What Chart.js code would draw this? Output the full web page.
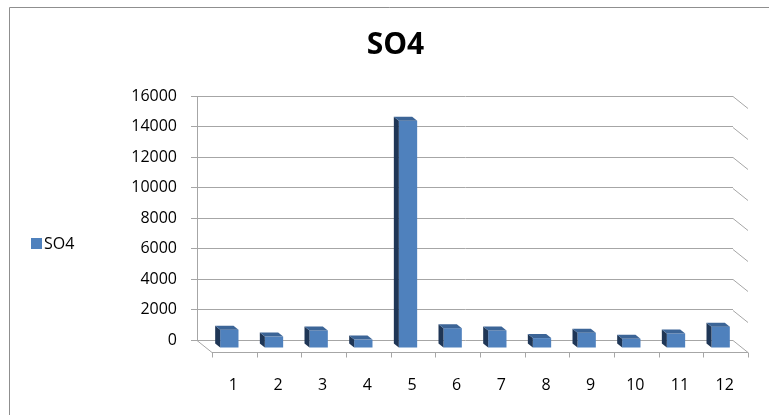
<!DOCTYPE html>
<html>
<head>
<meta charset="utf-8">
<script src="https://cdn.jsdelivr.net/npm/chart.js@4.4.0/dist/chart.umd.min.js"></script>
<style>
  html, body { margin: 0; padding: 0; background: #ffffff; }
  canvas { display: block; }
</style>
</head>
<body>
<canvas id="chart" width="769" height="415"></canvas>
<script>
// Sample numbers and their SO4 readings
const categories = ['1', '2', '3', '4', '5', '6', '7', '8', '9', '10', '11', '12'];
const seriesName = 'SO4';
const so4Values = [1200, 750, 1150, 550, 14900, 1300, 1150, 650, 1000, 600, 950, 1400];

// Value axis
const yMin = 0;
const yMax = 16000;
const yStep = 2000;

// Styling for the pseudo-3D look
const FONT = "'Open Sans', 'Liberation Sans', sans-serif";
const gridColor = '#a6a6a6';
const frontColor = '#4f81bd';
const sideColor = '#1f3656';
const topColor = '#3c6597';
const DEPTH = { x: 15, y: 12 };     // back wall -> front edge of the floor
const BAR_SHIFT = { x: 10, y: 8 };  // front face of the columns relative to the back wall
const BAR_DEPTH = { x: 5, y: 4 };   // visible thickness of each column

const threeD = {
  id: 'threeD',
  beforeDraw(chart) {
    const ctx = chart.ctx;
    // outer frame (left and top edges)
    ctx.save();
    ctx.strokeStyle = '#8f8f8f';
    ctx.lineWidth = 1;
    ctx.beginPath();
    ctx.moveTo(9.5, chart.height + 5);
    ctx.lineTo(9.5, 7.5);
    ctx.lineTo(chart.width + 5, 7.5);
    ctx.stroke();
    ctx.restore();
  },
  beforeDatasetsDraw(chart) {
    const { ctx, chartArea: a, scales } = chart;
    const ys = scales.y;
    ctx.save();
    ctx.strokeStyle = gridColor;
    ctx.lineWidth = 1;
    ctx.beginPath();
    // side wall continuation of every gridline
    ys.ticks.forEach(t => {
      const y = Math.round(ys.getPixelForValue(t.value)) + 0.5;
      ctx.moveTo(a.right, y);
      ctx.lineTo(a.right + DEPTH.x, y + DEPTH.y);
    });
    // floor
    const y0 = Math.round(ys.getPixelForValue(0)) + 0.5;
    const yf = y0 + DEPTH.y;
    ctx.moveTo(a.left, y0);
    ctx.lineTo(a.left + DEPTH.x, yf);
    ctx.lineTo(a.right + DEPTH.x, yf);
    // category ticks along the front edge
    const n = categories.length;
    const w = (a.right - a.left) / n;
    for (let k = 0; k <= n; k++) {
      const x = Math.round(a.left + DEPTH.x + k * w) + 0.5;
      ctx.moveTo(x, yf);
      ctx.lineTo(x, yf + 5);
    }
    ctx.stroke();
    ctx.restore();

    // columns stand in front of the back wall
    ctx.save();
    ctx.translate(BAR_SHIFT.x, BAR_SHIFT.y);
  },
  afterDatasetsDraw(chart) {
    const ctx = chart.ctx;
    chart.getDatasetMeta(0).data.forEach(bar => {
      const { x, y, base, width } = bar.getProps(['x', 'y', 'base', 'width'], true);
      const l = x - width / 2;
      const r = x + width / 2;
      // left side face
      ctx.fillStyle = sideColor;
      ctx.beginPath();
      ctx.moveTo(l, y);
      ctx.lineTo(l - BAR_DEPTH.x, y - BAR_DEPTH.y);
      ctx.lineTo(l - BAR_DEPTH.x, base - BAR_DEPTH.y);
      ctx.lineTo(l, base);
      ctx.closePath();
      ctx.fill();
      // top face
      ctx.fillStyle = topColor;
      ctx.beginPath();
      ctx.moveTo(l, y);
      ctx.lineTo(r, y);
      ctx.lineTo(r - BAR_DEPTH.x, y - BAR_DEPTH.y);
      ctx.lineTo(l - BAR_DEPTH.x, y - BAR_DEPTH.y);
      ctx.closePath();
      ctx.fill();
    });
    ctx.restore();
  },
  afterDraw(chart) {
    const ctx = chart.ctx;
    const ds = chart.data.datasets[0];
    // legend entry on the left
    ctx.save();
    ctx.fillStyle = ds.backgroundColor;
    ctx.fillRect(31, 238, 11, 11);
    ctx.fillStyle = '#000000';
    ctx.font = '16px ' + FONT;
    ctx.textBaseline = 'middle';
    ctx.textAlign = 'left';
    ctx.fillText(ds.label, 44, 244);
    ctx.restore();
  }
};

new Chart(document.getElementById('chart'), {
  type: 'bar',
  data: {
    labels: categories,
    datasets: [{
      label: seriesName,
      data: so4Values,
      backgroundColor: frontColor,
      borderWidth: 0,
      categoryPercentage: 1.0,
      barPercentage: 0.41
    }]
  },
  options: {
    responsive: false,
    animation: false,
    devicePixelRatio: 1,
    events: [],
    layout: { padding: { left: 58, right: 36, top: 0, bottom: 0 } },
    plugins: {
      legend: { display: false },
      tooltip: { enabled: false },
      title: {
        display: true,
        text: seriesName,
        color: '#000000',
        font: { family: FONT, size: 30, weight: 'bold', lineHeight: 1.2 },
        padding: { top: 27, bottom: 33 }
      }
    },
    scales: {
      x: {
        grid: { display: false, drawTicks: false },
        border: { display: false },
        ticks: {
          color: '#000000',
          font: { family: FONT, size: 16 },
          padding: 36,
          labelOffset: 14,
          maxRotation: 0,
          autoSkip: false
        },
        afterFit(scale) { scale.height = 75; }
      },
      y: {
        min: yMin,
        max: yMax,
        grid: { color: gridColor, lineWidth: 1, tickLength: 6 },
        border: { display: true, color: gridColor, width: 1 },
        ticks: {
          stepSize: yStep,
          color: '#000000',
          font: { family: FONT, size: 16 },
          padding: 14,
          callback: (value) => String(value)
        },
        afterFit(scale) { scale.width = 139; }
      }
    }
  },
  plugins: [threeD]
});
</script>
</body>
</html>
